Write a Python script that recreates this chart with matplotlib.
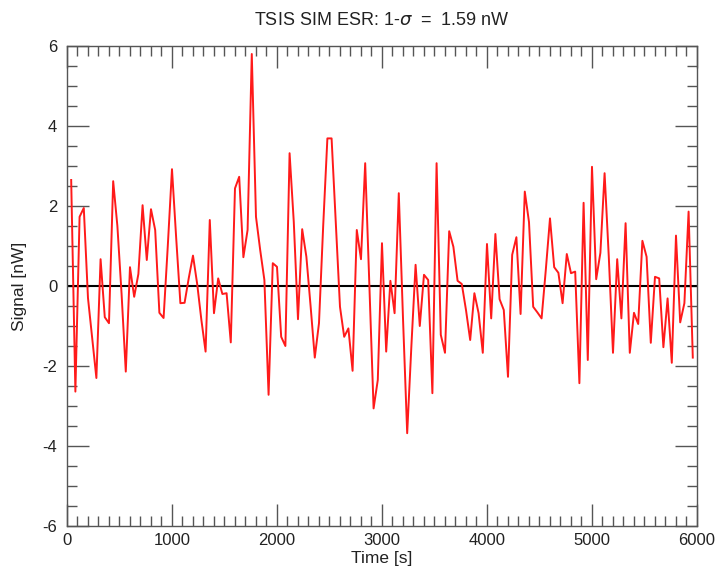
import numpy as np
import matplotlib
matplotlib.use("Agg")
import matplotlib.pyplot as plt
from matplotlib.ticker import MultipleLocator

plt.rcParams['font.family'] = ['Liberation Sans', 'DejaVu Sans']
plt.rcParams['axes.unicode_minus'] = False

# Sampling times [s] (one sample every 40 s)
time_s = np.arange(40, 6000, 40)

# Signal [nW]
signal_nw = [
    2.65, -2.64, 1.73, 1.95, -0.30, -1.30, -2.30, 0.67, -0.78, -0.93,
    2.62, 1.50, -0.20, -2.14, 0.47, -0.27, 0.30, 2.02, 0.65, 1.92,
    1.40, -0.67, -0.80, 1.00, 2.92, 1.20, -0.43, -0.42, 0.20, 0.76,
    0.05, -0.85, -1.64, 1.65, -0.68, 0.19, -0.20, -0.18, -1.41, 2.44,
    2.73, 0.72, 1.40, 5.80, 1.73, 0.90, 0.15, -2.72, 0.57, 0.48,
    -1.27, -1.50, 3.32, 1.60, -0.83, 1.42, 0.73, -0.50, -1.79, -0.93,
    1.50, 3.69, 3.69, 1.60, -0.52, -1.27, -1.06, -2.12, 1.40, 0.67,
    3.07, 0.00, -3.06, -2.35, 1.07, -1.64, 0.13, -0.68, 2.32, -0.80,
    -3.68, -1.50, 0.53, -1.00, 0.28, 0.15, -2.68, 3.07, -1.22, -1.67,
    1.37, 0.98, 0.13, 0.05, -0.60, -1.35, -0.18, -0.68, -1.67, 1.05,
    -0.81, 1.30, -0.33, -0.60, -2.27, 0.78, 1.22, -0.70, 2.36, 1.60,
    -0.52, -0.66, -0.81, 0.40, 1.69, 0.47, 0.33, -0.43, 0.80, 0.32,
    0.36, -2.43, 2.08, -1.85, 2.98, 0.17, 0.83, 2.82, 0.73, -1.67,
    0.67, -0.81, 1.57, -1.67, -0.67, -0.95, 1.13, 0.73, -1.42, 0.23,
    0.19, -1.53, -0.31, -1.92, 1.26, -0.91, -0.43, 1.86, -1.79,
]

title = r"TSIS SIM ESR: 1-$\sigma$  =  1.59 nW"
xlabel = "Time [s]"
ylabel = "Signal [nW]"

fig = plt.figure(figsize=(7.21, 5.72), dpi=100)
ax = fig.add_axes([0.0929, 0.0804, 0.8738, 0.8392])

ax.axhline(0, color='black', lw=1.5, zorder=2)
ax.plot(time_s, signal_nw, color='#ff1a1a', lw=1.4, zorder=3)

ax.set_xlim(0, 6000)
ax.set_ylim(-6, 6)
ax.xaxis.set_major_locator(MultipleLocator(1000))
ax.xaxis.set_minor_locator(MultipleLocator(100))
ax.yaxis.set_major_locator(MultipleLocator(2))
ax.yaxis.set_minor_locator(MultipleLocator(0.5))

frame_col = '#555555'
for s in ax.spines.values():
    s.set_color(frame_col)
    s.set_linewidth(1.0)
ax.tick_params(which='both', direction='in', top=True, right=True,
               color=frame_col, width=1.0, labelsize=12, labelcolor='#222222')
ax.tick_params(which='major', length=16)
ax.tick_params(which='minor', length=7.5)
ax.tick_params(axis='x', pad=5)
ax.tick_params(axis='y', pad=7)

ax.set_title(title, fontsize=13, color='#222222', pad=15)
ax.set_xlabel(xlabel, fontsize=12.5, color='#222222', labelpad=2)
ax.set_ylabel(ylabel, fontsize=12.5, color='#222222', labelpad=11)

fig.savefig("out.png", dpi=100)
